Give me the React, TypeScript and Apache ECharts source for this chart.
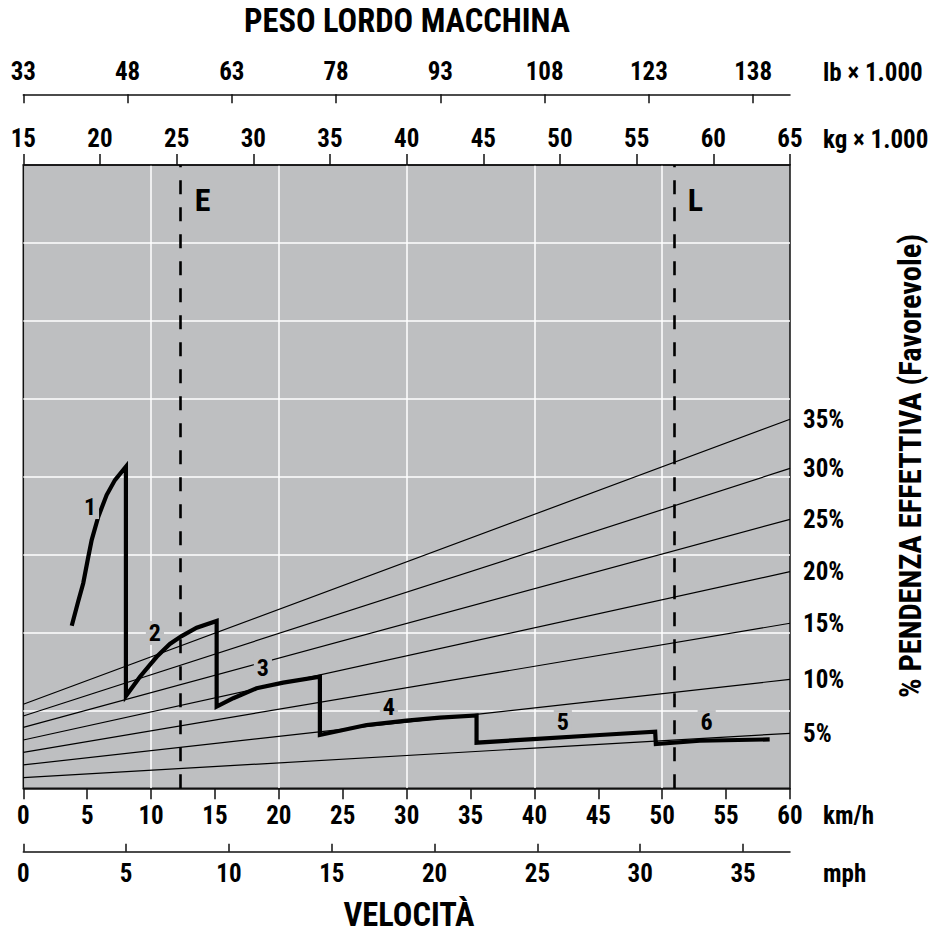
import React, { useEffect, useRef } from "react";
import * as echarts from "echarts";

// ---------- data ----------
const kmhTicks = [0, 5, 10, 15, 20, 25, 30, 35, 40, 45, 50, 55, 60];
const mphTicks = [0, 5, 10, 15, 20, 25, 30, 35];
const kgTicks = [15, 20, 25, 30, 35, 40, 45, 50, 55, 60, 65];
const lbTicks = [33, 48, 63, 78, 93, 108, 123, 138];

const KMH_PER_MPH = 1.609344;
const LB_PER_KG = 2.20462;

// grade (effective slope) lines: value at 0 km/h and at 60 km/h (chart units)
const gradeNames = ["35%", "30%", "25%", "20%", "15%", "10%", "5%"];
const gradeAt0 = [5.39, 4.64, 3.91, 3.1, 2.31, 1.5, 0.68];
const gradeAt60 = [23.68, 20.53, 17.26, 13.9, 10.59, 6.99, 3.53];

// rimpull curve (km/h, chart units), gear by gear with shift drops
const gear1 = [[3.79, 10.43], [4.3, 12.0], [4.69, 13.16], [5.05, 14.7], [5.35, 15.93], [5.87, 17.43], [6.52, 18.82], [7.17, 19.78], [8.03, 20.64]];
const gear2 = [[8.03, 5.92], [9.13, 7.16], [10.44, 8.44], [11.47, 9.26], [12.39, 9.77], [13.57, 10.31], [15.13, 10.74]];
const gear3 = [[15.13, 5.24], [16.43, 5.78], [18.26, 6.42], [20.34, 6.78], [23.21, 7.16]];
const gear4 = [[23.21, 3.42], [26.86, 4.06], [29.99, 4.34], [32.6, 4.53], [35.47, 4.68]];
const gear5 = [[35.47, 2.93], [39.9, 3.16], [45.11, 3.42], [49.45, 3.63]];
const gear6 = [[49.5, 2.84], [52.94, 3.05], [58.41, 3.14]];

// gear number labels [km/h, chart units, text]
const gearLabels = [
  [5.22, 18.05, "1"],
  [10.3, 9.97, "2"],
  [18.75, 7.72, "3"],
  [28.61, 5.22, "4"],
  [42.22, 4.25, "5"],
  [53.48, 4.25, "6"],
];

// machine weight markers (kg x 1000)
const weightMarkers = [
  [25.26, "E"],
  [57.42, "L"],
];
const markerLabelY = 37.75;

// ---------- styles ----------
const FONT = '"Roboto Condensed", "Open Sans Condensed", "DejaVu Sans Condensed", sans-serif';
const GRAY = "#bebfc1";
const TXT = { fontFamily: FONT, fontWeight: "bold" as const, color: "#000", fontSize: 25, opacity: 1 };

function txt(text: string, x: number, y: number, size: number, align: string, extra: any = {}) {
  return {
    type: "text",
    x,
    y,
    ...extra,
    style: {
      text,
      font: `bold ${size}px ${FONT}`,
      fill: "#000",
      textAlign: align,
      textVerticalAlign: "middle",
      align,
      verticalAlign: "middle",
    },
  };
}

export default function App() {
  const ref = useRef<HTMLDivElement>(null);

  useEffect(() => {
    if (!ref.current) return;
    const chart = echarts.init(ref.current, undefined, { renderer: "svg" });

    const kmhMax = kmhTicks[kmhTicks.length - 1];
    const kgMin = kgTicks[0];
    const kgMax = kgTicks[kgTicks.length - 1];

    const curve = [...gear1, ...gear2, ...gear3, ...gear4, ...gear5, ...gear6];

    const gradeSeries = gradeNames.map((name, i) => ({
      type: "line",
      name,
      xAxisIndex: 0,
      yAxisIndex: 0,
      data: [[0, gradeAt0[i]], [kmhMax, gradeAt60[i]]],
      symbol: "none",
      silent: true,
      lineStyle: { color: "#000", width: 1.2 },
      z: 3,
      endLabel: {
        show: true,
        formatter: name,
        distance: 13,
        ...TXT,
        fontSize: 25,
      },
    }));

    const axisLineStyle = { lineStyle: { color: "#111", width: 1.5 } };

    const option: any = {
      animation: false,
      grid: {
        left: 23.3,
        right: 141,
        top: 165,
        bottom: 154.7,
        show: true,
        backgroundColor: GRAY,
        borderColor: "#111",
        borderWidth: 1.5,
      },
      xAxis: [
        {
          // km/h
          type: "value",
          position: "bottom",
          min: 0,
          max: kmhMax,
          interval: 5,
          axisLine: { show: true, ...axisLineStyle },
          axisTick: { show: true, length: 11, lineStyle: { color: "#111", width: 1.5 } },
          axisLabel: { ...TXT, margin: 15 },
          splitLine: { show: false },
        },
        {
          // mph
          type: "value",
          position: "bottom",
          offset: 63.4,
          min: 0,
          max: kmhMax / KMH_PER_MPH,
          axisLine: { show: true, onZero: false, ...axisLineStyle },
          axisTick: { show: true, inside: true, length: 8, customValues: mphTicks, lineStyle: { color: "#111", width: 1.5 } },
          axisLabel: { ...TXT, margin: 9, customValues: mphTicks },
          splitLine: { show: false },
        },
        {
          // kg x 1000
          type: "value",
          position: "top",
          min: kgMin,
          max: kgMax,
          interval: 5,
          axisLine: { show: true, onZero: false, ...axisLineStyle },
          axisTick: { show: true, length: 11, lineStyle: { color: "#111", width: 1.5 } },
          axisLabel: { ...TXT, margin: 14 },
          splitLine: { show: false },
        },
        {
          // lb x 1000
          type: "value",
          position: "top",
          offset: 70.7,
          min: lbTicks[0],
          max: kgMax * LB_PER_KG,
          axisLine: { show: true, onZero: false, ...axisLineStyle },
          axisTick: { show: true, inside: true, length: 9, customValues: lbTicks, lineStyle: { color: "#111", width: 1.5 } },
          axisLabel: { ...TXT, margin: 10, customValues: lbTicks },
          splitLine: { show: false },
        },
        {
          // white vertical grid (every 10 km/h)
          type: "value",
          position: "bottom",
          min: 0,
          max: kmhMax,
          interval: 10,
          axisLine: { show: false },
          axisTick: { show: false },
          axisLabel: { show: false },
          splitLine: { show: true, showMinLine: false, showMaxLine: false, lineStyle: { color: "#fff", width: 1.5 } },
        },
      ],
      yAxis: [
        {
          type: "value",
          min: 0,
          max: 40,
          interval: 5,
          axisLine: { show: false },
          axisTick: { show: false },
          axisLabel: { show: false },
          splitLine: { show: true, showMinLine: false, showMaxLine: false, lineStyle: { color: "#fff", width: 1.5 } },
        },
      ],
      graphic: [
        txt("PESO LORDO MACCHINA", 407, 21, 32.5, "center"),
        txt("VELOCITÀ", 409, 915, 32.5, "center"),
        txt("lb × 1.000", 823, 72, 25, "left"),
        txt("kg × 1.000", 823, 139, 25, "left"),
        txt("km/h", 823, 815, 25, "left"),
        txt("mph", 823, 873, 25, "left"),
        txt("% PENDENZA EFFETTIVA (Favorevole)", 910, 466, 30.5, "center", { rotation: Math.PI / 2 }),
      ],
      series: [
        ...gradeSeries,
        {
          type: "line",
          name: "curve",
          xAxisIndex: 0,
          yAxisIndex: 0,
          data: curve,
          symbol: "none",
          silent: true,
          lineStyle: { color: "#000", width: 4.2, join: "miter" },
          z: 4,
        },
        {
          type: "scatter",
          name: "weights",
          xAxisIndex: 2,
          yAxisIndex: 0,
          data: weightMarkers.map((m) => [m[0], markerLabelY, m[1]]),
          symbolSize: 0,
          silent: true,
          z: 5,
          itemStyle: { opacity: 1 },
          label: {
            show: true,
            position: "right",
            distance: 14,
            formatter: (p: any) => p.value[2],
            ...TXT,
            fontSize: 32,
          },
          markLine: {
            silent: true,
            symbol: "none",
            label: { show: false },
            lineStyle: { color: "#000", width: 2.6, type: [14, 13], opacity: 1 },
            data: weightMarkers.map((m) => ({ xAxis: m[0] })),
          },
        },
        {
          type: "scatter",
          name: "gears",
          xAxisIndex: 0,
          yAxisIndex: 0,
          data: gearLabels,
          symbolSize: 0,
          silent: true,
          z: 6,
          itemStyle: { opacity: 1 },
          label: {
            show: true,
            position: "inside",
            formatter: (p: any) => p.value[2],
            ...TXT,
            fontSize: 24,
            backgroundColor: GRAY,
            padding: [0, 3],
          },
        },
      ],
    };

    chart.setOption(option);
    return () => chart.dispose();
  }, []);

  return (
    <div
      ref={ref}
      style={{ position: "fixed", left: 0, top: 0, width: 931, height: 943, background: "#fff" }}
    />
  );
}
